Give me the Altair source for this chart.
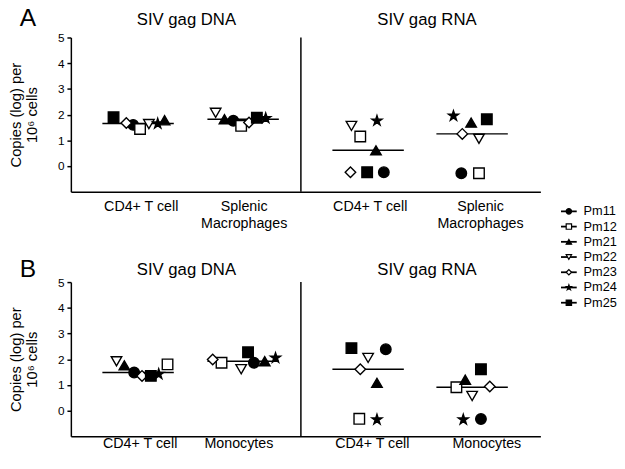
import altair as alt
import pandas as pd

FONT = "Liberation Sans"

animals = ["Pm11", "Pm12", "Pm21", "Pm22", "Pm23", "Pm24", "Pm25"]
fills = ["black", "white", "black", "white", "white", "black", "black"]
STAR = ("M0,-1L0.225,-0.309L0.951,-0.309L0.363,0.118L0.588,0.809L0,0.382"
        "L-0.588,0.809L-0.363,0.118L-0.951,-0.309L-0.225,-0.309Z")
shapes = ["circle", "square", "triangle-up", "triangle-down", "diamond", STAR, "square"]

sections = ["SIV gag DNA", "SIV gag RNA"]
cats_A = ["CD4+ T cell", "Splenic\nMacrophages", "CD4+ T cell", "Splenic\nMacrophages"]
cats_B = ["CD4+ T cell", "Monocytes", "CD4+ T cell", "Monocytes"]

# log copies per 10^6 cells, in animal order
A_dna_cd4 = [1.60, 1.44, 1.78, 1.63, 1.67, 1.65, 1.90]
A_dna_spl = [1.76, 1.56, 1.82, 2.07, 1.69, 1.86, 1.88]
A_rna_cd4 = [-0.24, 1.15, 0.61, 1.56, -0.24, 1.76, -0.24]
A_rna_spl = [-0.28, -0.28, 1.69, 1.06, 1.25, 1.95, 1.82]
B_dna_cd4 = [1.48, 1.80, 1.76, 1.92, 1.35, 1.42, 1.35]
B_dna_mono = [1.86, 1.86, 1.92, 1.61, 1.99, 2.05, 2.27]
B_rna_cd4 = [2.39, -0.32, 1.08, 2.05, 1.61, -0.35, 2.43]
B_rna_mono = [-0.33, 0.91, 1.20, 0.57, 0.94, -0.35, 1.61]

# layout: horizontal scatter offsets (px) of each animal's marker
off_A = [[-5, 2, 27, 11, -12, 20, -25], [-10, -2, -19, -28, 6, 23, 14],
         [16, -8, 8, -17, -18, 9, -1], [-11, 7, -1, 7, -10, -19, 15]]
off_B = [[-4, 30, -14, -22, 4, 21, 13], [11, -22, 22, -2, -31, 33, 5],
         [18, -9, 9, 0, -8, 9, -17], [9, -16, -7, 0, 18, -9, 9]]

SLOT_POS = [1, 2, 3.19, 4.18]
LABEL_POS_A = [1.03, 2.01, 3.21, 4.26]
LABEL_POS_B = [1.02, 1.96, 3.23, 4.32]
DIVIDER = 2.55
TITLE_POS = [1.46, 3.75]
PX_PER_UNIT = 107.0
W, H = 478, 157

xs = alt.Scale(domain=[0.36, 4.83], nice=False, zero=False)
ys = alt.Scale(domain=[-1, 5], nice=False, zero=False)
shape_scale = alt.Scale(domain=animals, range=shapes)
fill_scale = alt.Scale(domain=animals, range=fills)

y_axis = alt.Axis(values=[0, 1, 2, 3, 4, 5], title=["Copies (log) per", "10⁶ cells"],
                  titleFont=FONT, titleFontSize=15, titleFontWeight="normal",
                  titleColor="black", titlePadding=18, titleLineHeight=17,
                  labelFont=FONT, labelFontSize=12, labelColor="black", labelPadding=3,
                  tickSize=4, tickColor="black", tickWidth=1.5,
                  domainColor="black", domainWidth=1.5, grid=False)
x_axis = alt.Axis(title=None, labels=False, ticks=False, grid=False,
                  domainColor="black", domainWidth=1.5)


def make_row(letter, cats, label_pos, vals_list, offs_list, title_dy, label_dy, letter_dy):
    recs = []
    for slot, (vals, offs) in enumerate(zip(vals_list, offs_list)):
        for a, v, o in zip(animals, vals, offs):
            recs.append(dict(animal=a, pos=SLOT_POS[slot],
                             x=SLOT_POS[slot] + o / PX_PER_UNIT, value=v))
    df = pd.DataFrame(recs)

    divider = alt.Chart(pd.DataFrame({"d": [DIVIDER], "y1": [-1], "y2": [5]})).mark_rule(
        color="black", strokeWidth=1.5).encode(
        x=alt.X("d:Q", scale=xs, axis=x_axis),
        y=alt.Y("y1:Q", scale=ys, axis=y_axis),
        y2="y2:Q",
    )

    medians = alt.Chart(df).transform_aggregate(
        med="median(value)", groupby=["pos"]
    ).transform_calculate(
        x1="datum.pos - 0.34", x2="datum.pos + 0.34"
    ).mark_rule(color="black", strokeWidth=1.5).encode(
        x=alt.X("x1:Q", scale=xs, axis=x_axis),
        x2="x2:Q",
        y=alt.Y("med:Q", scale=ys, axis=y_axis),
    )

    points = alt.Chart(df).mark_point(filled=True, stroke="black", strokeWidth=1.4,
                                      size=115, opacity=1).encode(
        x=alt.X("x:Q", scale=xs, axis=x_axis),
        y=alt.Y("value:Q", scale=ys, axis=y_axis),
        shape=alt.Shape("animal:N", scale=shape_scale, legend=None),
        fill=alt.Fill("animal:N", scale=fill_scale, legend=None),
    )

    titles = alt.Chart(pd.DataFrame({"t": sections, "tx": TITLE_POS})).mark_text(
        font=FONT, fontSize=17, color="black", align="center", baseline="middle").encode(
        x=alt.X("tx:Q", scale=xs, axis=x_axis),
        y=alt.value(-title_dy),
        text="t:N",
    )

    labels = alt.Chart(pd.DataFrame({"c": cats, "cx": label_pos})).mark_text(
        font=FONT, fontSize=14.5, color="black", align="center", baseline="middle",
        lineBreak="\n", lineHeight=17).encode(
        x=alt.X("cx:Q", scale=xs, axis=x_axis),
        y=alt.value(H + label_dy),
        text="c:N",
    )

    panel = alt.Chart(pd.DataFrame({"p": [letter]})).mark_text(
        font=FONT, fontSize=25, color="black", align="left", baseline="alphabetic").encode(
        x=alt.value(-52),
        y=alt.value(-letter_dy),
        text="p:N",
    )

    return alt.layer(divider, medians, points, titles, labels, panel).properties(
        width=W, height=H)


rowA = make_row("A", cats_A, LABEL_POS_A, [A_dna_cd4, A_dna_spl, A_rna_cd4, A_rna_spl],
                off_A, title_dy=18, label_dy=16, letter_dy=12)
rowB = make_row("B", cats_B, LABEL_POS_B, [B_dna_cd4, B_dna_mono, B_rna_cd4, B_rna_mono],
                off_B, title_dy=12, label_dy=8, letter_dy=5)

# manual legend: line + marker + name
leg_df = pd.DataFrame({"animal": animals, "idx": list(range(len(animals)))})
leg_y = alt.Y("idx:Q", scale=alt.Scale(domain=[-11.42, 6.645], reverse=True, nice=False,
                                        zero=False), axis=None)
leg_lines = alt.Chart(leg_df).mark_rule(color="black", strokeWidth=1.8).encode(
    x=alt.value(0), x2=alt.value(16), y=leg_y)
leg_pts = alt.Chart(leg_df).mark_point(filled=True, stroke="black", strokeWidth=1.2,
                                       size=30, opacity=1).encode(
    x=alt.value(8), y=leg_y,
    shape=alt.Shape("animal:N", scale=shape_scale, legend=None),
    fill=alt.Fill("animal:N", scale=fill_scale, legend=None))
leg_txt = alt.Chart(leg_df).mark_text(font=FONT, fontSize=13, color="black", align="left",
                                      baseline="middle").encode(
    x=alt.value(23), y=leg_y, text="animal:N")
legend = alt.layer(leg_lines, leg_pts, leg_txt).properties(width=56, height=280)

chart = alt.hconcat(
    alt.vconcat(rowA, rowB, spacing=92, bounds="flush"),
    legend, spacing=20,
).resolve_scale(shape="shared", fill="shared").properties(
    padding={"top": -6, "left": 0, "right": 0, "bottom": 0}).configure(
    font=FONT, view=alt.ViewConfig(stroke=None))

chart.save("out.html", embed_options={"renderer": "svg", "actions": False})
